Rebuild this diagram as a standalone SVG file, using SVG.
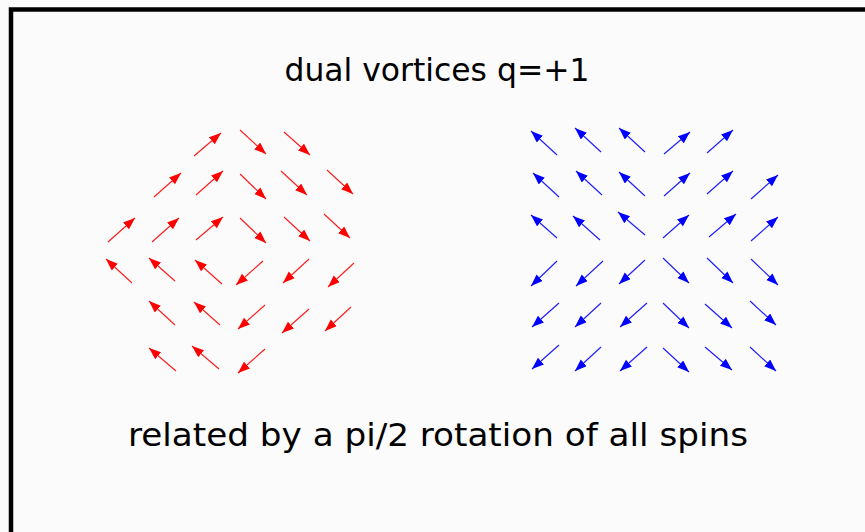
<svg xmlns="http://www.w3.org/2000/svg" width="865" height="532" viewBox="0 0 865 532">
<style>
.t{font-family:"DejaVu Sans Condensed","DejaVu Sans",sans-serif;font-size:32px;fill:#000}
.r{stroke:#ff1a1a;stroke-width:1.1;marker-end:url(#hr)}
.b{stroke:#1a1aff;stroke-width:1.1;marker-end:url(#hb)}
</style>
<defs>
<marker id="hr" markerUnits="userSpaceOnUse" markerWidth="13" markerHeight="10" refX="12" refY="4.5" orient="auto"><path d="M0,0 L12,4.5 L0,9 Z" fill="#ff0000"/></marker>
<marker id="hb" markerUnits="userSpaceOnUse" markerWidth="13" markerHeight="10" refX="12" refY="4.5" orient="auto"><path d="M0,0 L12,4.5 L0,9 Z" fill="#0000ff"/></marker>
</defs>
<rect x="0" y="0" width="865" height="532" fill="#fbfbfb"/>
<rect x="11" y="9.5" width="900" height="600" fill="none" stroke="#000" stroke-width="4.5"/>
<g id="title"><text class="t" x="437" y="80.5" text-anchor="middle" textLength="305" lengthAdjust="spacingAndGlyphs">dual vortices q=+1</text></g>
<g id="caption"><text class="t" x="438" y="446" text-anchor="middle" textLength="620" lengthAdjust="spacingAndGlyphs">related by a pi/2 rotation of all spins</text></g>
<g id="red-vortex">
<line class="r" x1="194" y1="156" x2="221" y2="133"/>
<line class="r" x1="240" y1="130" x2="266" y2="154"/>
<line class="r" x1="284" y1="132" x2="310" y2="155"/>
<line class="r" x1="154" y1="197" x2="181" y2="173"/>
<line class="r" x1="196" y1="195" x2="223" y2="171"/>
<line class="r" x1="240" y1="174" x2="266" y2="199"/>
<line class="r" x1="281" y1="171" x2="307" y2="195"/>
<line class="r" x1="327" y1="170" x2="353" y2="194"/>
<line class="r" x1="108" y1="242" x2="135" y2="218"/>
<line class="r" x1="152" y1="242" x2="179" y2="218"/>
<line class="r" x1="196" y1="240" x2="223" y2="217"/>
<line class="r" x1="240" y1="218" x2="266" y2="243"/>
<line class="r" x1="284" y1="217" x2="310" y2="241"/>
<line class="r" x1="324" y1="214" x2="350" y2="238"/>
<line class="r" x1="132" y1="283" x2="106" y2="259"/>
<line class="r" x1="175" y1="281" x2="149" y2="258"/>
<line class="r" x1="222" y1="284" x2="195" y2="260"/>
<line class="r" x1="263" y1="261" x2="236" y2="285"/>
<line class="r" x1="309" y1="259" x2="283" y2="283"/>
<line class="r" x1="354" y1="263" x2="328" y2="287"/>
<line class="r" x1="175" y1="325" x2="149" y2="301"/>
<line class="r" x1="220" y1="325" x2="194" y2="302"/>
<line class="r" x1="265" y1="305" x2="238" y2="329"/>
<line class="r" x1="309" y1="309" x2="282" y2="333"/>
<line class="r" x1="351" y1="307" x2="325" y2="331"/>
<line class="r" x1="176" y1="371" x2="149" y2="348"/>
<line class="r" x1="219" y1="369" x2="192" y2="346"/>
<line class="r" x1="265" y1="349" x2="238" y2="373"/>
</g>
<g id="blue-vortex">
<line class="b" x1="557" y1="155" x2="531" y2="131"/>
<line class="b" x1="601" y1="152" x2="575" y2="128"/>
<line class="b" x1="645" y1="152" x2="619" y2="128"/>
<line class="b" x1="664" y1="154" x2="690" y2="132"/>
<line class="b" x1="707" y1="153" x2="733" y2="130"/>
<line class="b" x1="559" y1="197" x2="533" y2="173"/>
<line class="b" x1="602" y1="195" x2="576" y2="171"/>
<line class="b" x1="645" y1="196" x2="619" y2="172"/>
<line class="b" x1="664" y1="196" x2="690" y2="173"/>
<line class="b" x1="707" y1="194" x2="733" y2="171"/>
<line class="b" x1="751" y1="199" x2="778" y2="175"/>
<line class="b" x1="557" y1="238" x2="531" y2="215"/>
<line class="b" x1="600" y1="240" x2="573" y2="216"/>
<line class="b" x1="645" y1="235" x2="618" y2="212"/>
<line class="b" x1="663" y1="238" x2="689" y2="215"/>
<line class="b" x1="709" y1="237" x2="736" y2="214"/>
<line class="b" x1="751" y1="241" x2="778" y2="217"/>
<line class="b" x1="557" y1="261" x2="531" y2="286"/>
<line class="b" x1="603" y1="261" x2="576" y2="286"/>
<line class="b" x1="645" y1="260" x2="619" y2="284"/>
<line class="b" x1="663" y1="258" x2="689" y2="283"/>
<line class="b" x1="707" y1="258" x2="733" y2="283"/>
<line class="b" x1="751" y1="259" x2="778" y2="285"/>
<line class="b" x1="559" y1="303" x2="532" y2="327"/>
<line class="b" x1="601" y1="303" x2="575" y2="327"/>
<line class="b" x1="647" y1="303" x2="620" y2="327"/>
<line class="b" x1="663" y1="303" x2="689" y2="328"/>
<line class="b" x1="705" y1="304" x2="732" y2="328"/>
<line class="b" x1="750" y1="301" x2="776" y2="325"/>
<line class="b" x1="559" y1="345" x2="532" y2="369"/>
<line class="b" x1="601" y1="347" x2="575" y2="371"/>
<line class="b" x1="647" y1="347" x2="620" y2="371"/>
<line class="b" x1="663" y1="348" x2="689" y2="372"/>
<line class="b" x1="705" y1="347" x2="732" y2="370"/>
<line class="b" x1="750" y1="347" x2="776" y2="371"/>
</g>
</svg>
